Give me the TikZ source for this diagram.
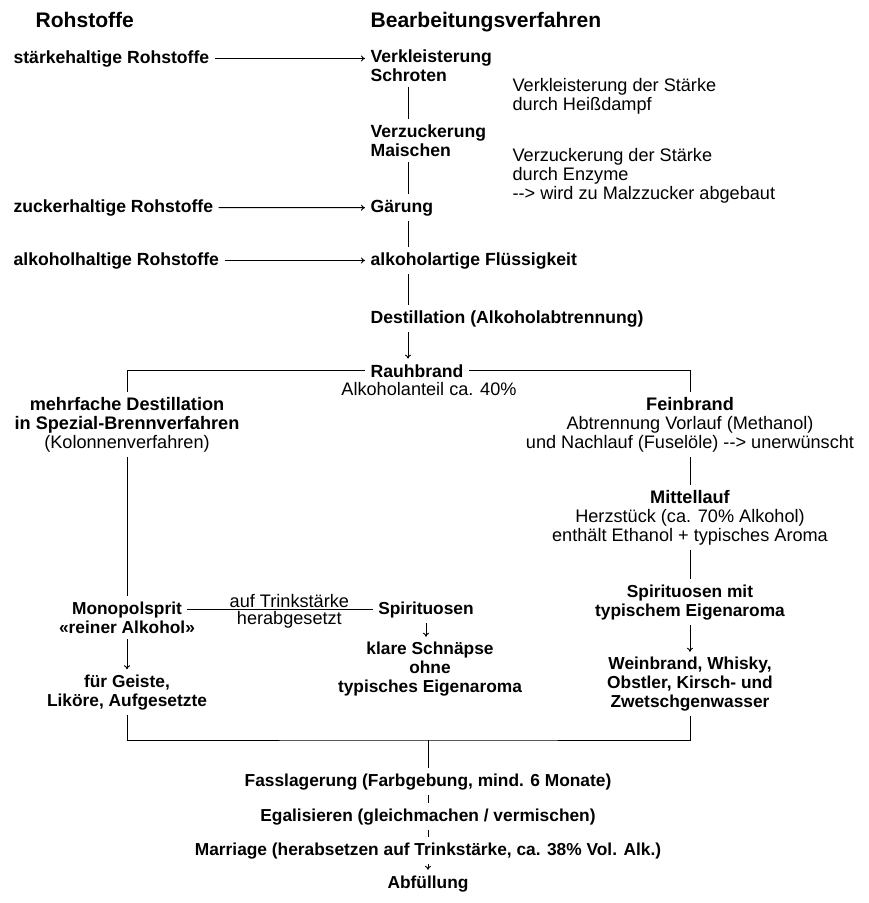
\documentclass[tikz,border=0pt]{standalone}
\usepackage{fontspec}
\setmainfont{Liberation Sans}
\usetikzlibrary{arrows.meta}
\tikzset{
	textnode/.style = {inner sep=4pt, font=\fontsize{13.6}{13.9}\selectfont},
	kopf/.style = {textnode, anchor=base west, font=\fontsize{15.8}{16}\selectfont\bfseries},
	stoff/.style = {textnode, anchor=base west, font=\fontsize{13.2}{13.9}\selectfont\bfseries},
	schritt/.style = {stoff, align=left},
	notiz/.style = {textnode, anchor=base west, align=left},
	zweig/.style = {textnode, anchor=base, align=center},
	fett/.style = {zweig, font=\fontsize{13}{13.9}\selectfont\bfseries},
	hinweis/.style = {textnode, inner sep=1pt},
	linie/.style = {line width=0.7pt},
	pfeil/.style = {linie, -{To[length=3pt,width=4.5pt]}}
}
\begin{document}
\begin{tikzpicture}[x=0.75pt, y=-0.75pt]
	\useasboundingbox (0,0) rectangle (868,903);
	\coordinate (achse) at (408,0);
	\node [kopf] (kroh) at (30,27) {Rohstoffe};
	\node [kopf] (kbear) at (365,27) {Bearbeitungsverfahren};
	\node [stoff] (staerke) at (8,63) {stärkehaltige Rohstoffe};
	\node [stoff] (zucker) at (8,212) {zuckerhaltige Rohstoffe};
	\node [stoff] (alkohol) at (8,265) {alkoholhaltige Rohstoffe};
	\node [schritt] (verklei) at (365,81) {Verkleisterung\\Schroten};
	\node [notiz] (notizA) at (507,110) {Verkleisterung der Stärke\\durch Heißdampf};
	\node [schritt] (verzuck) at (365,156) {Verzuckerung\\Maischen};
	\node [notiz] (notizB) at (507,199) {Verzuckerung der Stärke\\durch Enzyme\\-{}-> wird zu Malzzucker abgebaut};
	\node [schritt] (gaerung) at (365,212) {Gärung};
	\node [schritt] (fluessig) at (365,265) {alkoholartige Flüssigkeit};
	\node [schritt] (destill) at (365,323) {Destillation (Alkoholabtrennung)};
	\node [schritt] (rauh) at (365,377) {Rauhbrand};
	\node [zweig] (anteil) at (429,395) {Alkoholanteil ca. 40\%};
	\node [zweig] (mehrfach) at (127,448) {\textbf{mehrfache Destillation}\\\textbf{in Spezial-Brennverfahren}\\(Kolonnenverfahren)};
	\node [zweig] (fein) at (690,448) {\textbf{Feinbrand}\\Abtrennung Vorlauf (Methanol)\\und Nachlauf (Fuselöle) -{}-> unerwünscht};
	\node [zweig] (mittel) at (690,541) {\textbf{Mittellauf}\\Herzstück (ca. 70\% Alkohol)\\enthält Ethanol + typisches Aroma};
	\node [fett] (spiritmit) at (690,616) {Spirituosen mit\\typischem Eigenaroma};
	\node [fett] (weinbrand) at (690,707) {Weinbrand, Whisky,\\Obstler, Kirsch- und\\Zwetschgenwasser};
	\node [fett] (mono) at (127,614) {Monopolsprit};
	\node [fett] (reiner) at (127,633) {«reiner Alkohol»};
	\node [fett] (spirit) at (426,614) {Spirituosen};
	\node [fett] (klar) at (430,692) {klare Schnäpse\\ohne\\typisches Eigenaroma};
	\node [fett] (geiste) at (127,706) {für Geiste,\\Liköre, Aufgesetzte};
	\coordinate (sammel) at (428,740);
	\node [fett] (fass) at (428,786) {Fasslagerung (Farbgebung, mind. 6 Monate)};
	\node [fett] (egal) at (428,821) {Egalisieren (gleichmachen / vermischen)};
	\node [fett] (marriage) at (428,855) {Marriage (herabsetzen auf Trinkstärke, ca. 38\% Vol. Alk.)};
	\node [fett] (abf) at (428,888) {Abfüllung};
	\draw [pfeil] (staerke) -- (staerke -| verklei.west);
	\draw [pfeil] (zucker) -- (gaerung);
	\draw [pfeil] (alkohol) -- (fluessig);
	\draw [linie] (verklei.south -| achse) -- (verzuck.north -| achse);
	\draw [linie] (verzuck.south -| achse) -- (gaerung.north -| achse);
	\draw [linie] (gaerung.south -| achse) -- (fluessig.north -| achse);
	\draw [linie] (fluessig.south -| achse) -- (destill.north -| achse);
	\draw [pfeil] (destill.south -| achse) -- (rauh.north -| achse);
	\draw [linie] (rauh.west) -| (mehrfach.north);
	\draw [linie] (rauh.east) -| (fein.north);
	\draw [linie] (mehrfach.south) -- (mono.north);
	\draw [linie] (mono) -- (spirit)
		node [hinweis, pos=0.55, above] {auf Trinkstärke}
		node [hinweis, pos=0.55, below] {herabgesetzt};
	\draw [pfeil] (reiner.south) -- (geiste.north);
	\draw [pfeil] (spirit.south) -- (spirit.south |- klar.north);
	\draw [linie] (fein.south) -- (mittel.north);
	\draw [linie] (mittel.south) -- (spiritmit.north);
	\draw [pfeil] (spiritmit.south) -- (weinbrand.north);
	\draw [linie] (geiste.south) |- (sammel) -| (weinbrand.south);
	\draw [linie] (sammel) -- (fass.north);
	\draw [linie] (fass.south) -- (egal.north);
	\draw [linie] (egal.south) -- (marriage.north);
	\draw [pfeil] (marriage.south) -- (abf.north);
\end{tikzpicture}
\end{document}
